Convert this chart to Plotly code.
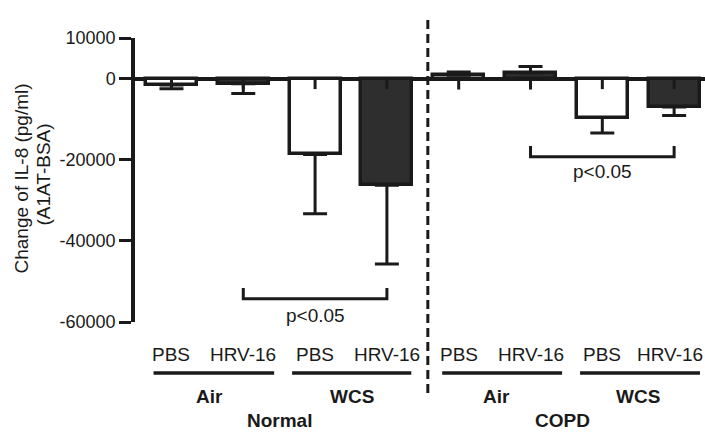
import plotly.graph_objects as go

# ---- data ----
conditions = ["PBS", "HRV-16", "PBS", "HRV-16", "PBS", "HRV-16", "PBS", "HRV-16"]
exposure = ["Air", "WCS", "Air", "WCS"]
groups = ["Normal", "COPD"]
means = [-1600, -1300, -18700, -26300, 800, 1400, -9600, -7000]
sem = [900, 2400, 14600, 19400, 800, 1600, 3800, 2100]
stub = [-2600, -2600, -2600, -2600, -2700, -2700, -2600, -2600]
fills = ["white", "#2e2e2e", "white", "#2e2e2e", "white", "#2e2e2e", "white", "#2e2e2e"]
y_ticks = [10000, 0, -20000, -40000, -60000]
y_ticktext = ["10000", "0", "-20000", "-40000", "-60000"]
sig_pairs = [(1, 3, -51600, -54300, -58300), (5, 7, -16600, -19250, -22950)]
sig_text = "p<0.05"

FONT = "Liberation Sans, Arial, sans-serif"
INK = "#1a1a1a"

x = list(range(len(conditions)))
err_plus = [s if m > 0 else 0 for m, s in zip(means, sem)]
err_minus = [s if m <= 0 else 0 for m, s in zip(means, sem)]

fig = go.Figure()
fig.add_trace(go.Bar(
    x=x, y=means, width=0.71,
    marker=dict(color=fills, line=dict(color=INK, width=3.5)),
    error_y=dict(type="data", symmetric=False, array=err_plus, arrayminus=err_minus,
                 color=INK, thickness=3, width=12),
    showlegend=False, hoverinfo="skip",
))

# small stubs under the zero line at each bar centre
sx, sy = [], []
for xi, d in zip(x, stub):
    sx += [xi, xi, None]
    sy += [0, d, None]
fig.add_trace(go.Scatter(x=sx, y=sy, mode="lines", line=dict(color=INK, width=3),
                         showlegend=False, hoverinfo="skip"))

# significance brackets
for a, b, ytop, ybot, ytext in sig_pairs:
    fig.add_trace(go.Scatter(x=[a, a, b, b], y=[ytop, ybot, ybot, ytop], mode="lines",
                             line=dict(color=INK, width=3), showlegend=False, hoverinfo="skip"))
    fig.add_annotation(x=(a + b) / 2, y=ytext, text=sig_text, showarrow=False,
                       font=dict(family=FONT, size=19, color=INK), xanchor="center", yanchor="middle")

# condition labels
for xi, t in zip(x, conditions):
    fig.add_annotation(x=xi, y=-0.1127, yref="paper", text=t, showarrow=False,
                       xshift=(-4 if xi == x[-1] else 0),
                       font=dict(family=FONT, size=19, color=INK), xanchor="center", yanchor="middle")

# underlines and exposure labels
underlines = [(-0.25, 1.43), (1.68, 3.34), (3.77, 5.44), (5.69, 7.36)]
exp_x = [0.53, 2.52, 4.53, 6.5]
for (x0, x1), ex, t in zip(underlines, exp_x, exposure):
    fig.add_shape(type="line", xref="x", yref="paper", x0=x0, x1=x1, y0=-0.1796, y1=-0.1796,
                  line=dict(color=INK, width=3.5))
    fig.add_annotation(x=ex, y=-0.2606, yref="paper", text="<b>%s</b>" % t, showarrow=False,
                       font=dict(family=FONT, size=19, color=INK), xanchor="center", yanchor="middle")

for gx, t in zip([1.5, 5.45], groups):
    fig.add_annotation(x=gx, y=-0.392, yref="paper", text="<b>%s</b>" % t, showarrow=False,
                       font=dict(family=FONT, size=19, color=INK), xanchor="center", yanchor="bottom")

# dashed separator
fig.add_shape(type="line", xref="x", yref="paper", x0=3.57, x1=3.57, y0=-0.25, y1=1.07,
              line=dict(color=INK, width=3, dash="9px,5px"))

# y-axis title (two lines)
fig.add_annotation(x=0, xref="paper", y=0.5035, yref="paper", xshift=-113.5,
                   text="Change of IL-8 (pg/ml)", textangle=-90, showarrow=False,
                   font=dict(family=FONT, size=19, color=INK), xanchor="center", yanchor="middle")
fig.add_annotation(x=0, xref="paper", y=0.5176, yref="paper", xshift=-91.5,
                   text="(A1AT-BSA)", textangle=-90, showarrow=False,
                   font=dict(family=FONT, size=19, color=INK), xanchor="center", yanchor="middle")

fig.update_layout(
    width=705, height=434,
    margin=dict(l=134.5, r=0, t=38, b=112),
    paper_bgcolor="white", plot_bgcolor="white",
    font=dict(family=FONT, size=18, color=INK),
    bargap=0,
    xaxis=dict(range=[-0.508, 7.43], showgrid=False, zeroline=False, showline=False,
               showticklabels=False, ticks="", fixedrange=True),
    yaxis=dict(range=[-60000, 10000], tickvals=y_ticks, ticktext=y_ticktext,
               showgrid=False, showline=True, linecolor=INK, linewidth=3.5,
               ticks="outside", ticklen=12, tickwidth=3, tickcolor=INK,
               zeroline=True, zerolinecolor=INK, zerolinewidth=3.5,
               tickfont=dict(family=FONT, size=18, color=INK), fixedrange=True),
)

fig.write_html("out.html", config={"displayModeBar": False},
               post_script="document.body.style.margin='0';document.body.style.overflow='hidden';")
